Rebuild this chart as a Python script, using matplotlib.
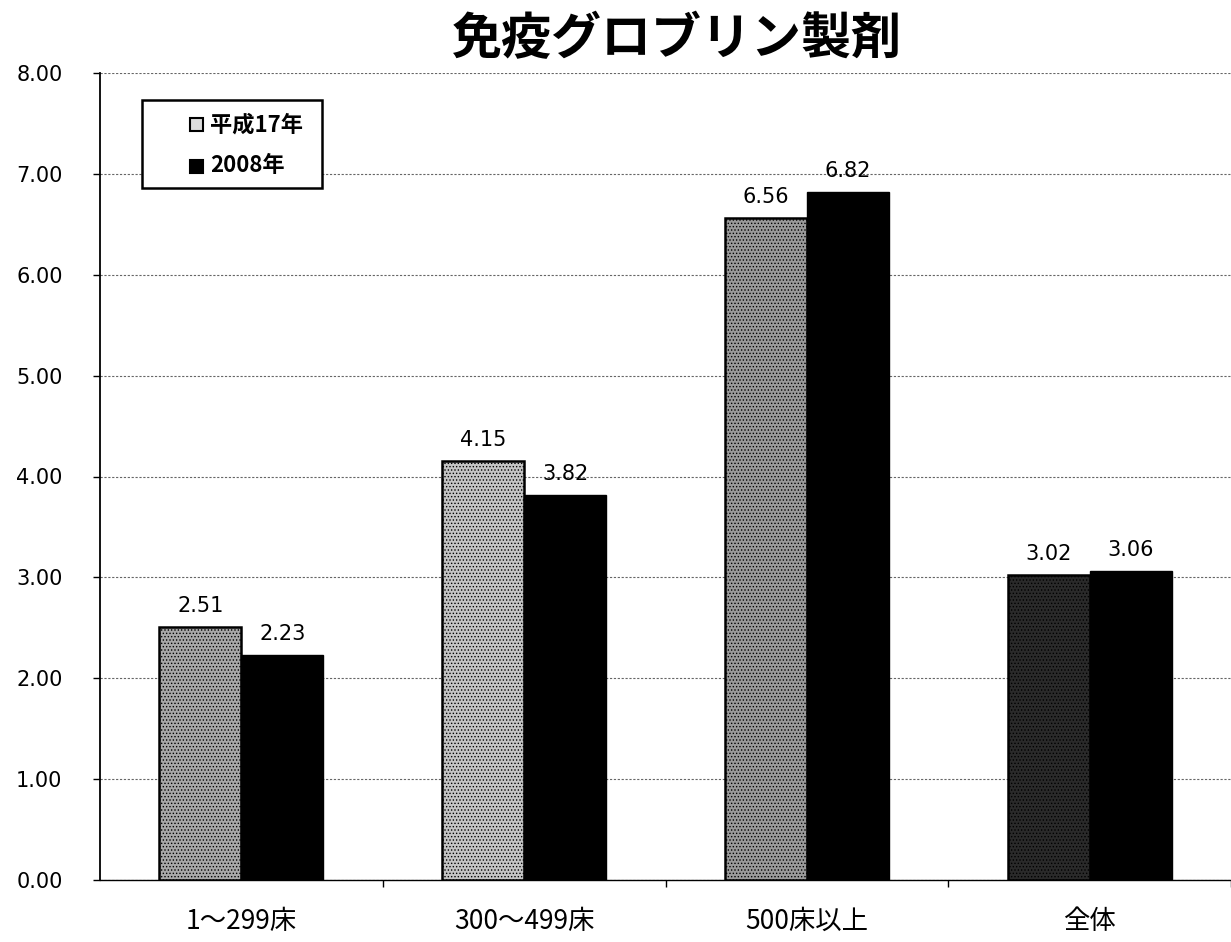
import matplotlib
matplotlib.use("Agg")
import matplotlib.pyplot as plt
from matplotlib.patches import Rectangle
import numpy as np

plt.rcParams['font.family'] = ['Noto Sans CJK JP', 'DejaVu Sans']
plt.rcParams['hatch.linewidth'] = 0.6

title = "免疫グロブリン製剤"
categories = ["1～299床", "300～499床", "500床以上", "全体"]
series_names = ["平成17年", "2008年"]
values_2005 = [2.51, 4.15, 6.56, 3.02]
values_2008 = [2.23, 3.82, 6.82, 3.06]
yticks = [0, 1, 2, 3, 4, 5, 6, 7, 8]

W, H = 1231, 942
fig = plt.figure(figsize=(W / 100, H / 100), dpi=100)
ax = fig.add_axes([100 / W, (H - 880) / H, (W - 100) / W, (880 - 73) / H])

x = np.arange(len(categories))
bw = 0.29
face1 = ['#a8a8a8', '#c4c4c4', '#9a9a9a', '#2a2a2a']
bars1 = ax.bar(x - bw / 2, values_2005, width=bw, color=face1, edgecolor='black',
               linewidth=1.8, hatch='.....', zorder=3)
bars2 = ax.bar(x + bw / 2, values_2008, width=bw, color='black', edgecolor='black',
               linewidth=1.0, zorder=3)

for bars, vals in ((bars1, values_2005), (bars2, values_2008)):
    for b, v in zip(bars, vals):
        ax.annotate(f"{v:.2f}", (b.get_x() + b.get_width() / 2, v),
                    xytext=(0, 8), textcoords='offset points',
                    ha='center', va='bottom', fontsize=15, family='DejaVu Sans')

ax.set_ylim(0, 8)
ax.set_xlim(-0.5, 3.5 - 17 / 287)
ax.set_yticks(yticks)
ax.set_yticklabels([f"{t:.2f}" for t in yticks], fontsize=15, family='DejaVu Sans')
ax.yaxis.grid(True, color='#666666', linestyle=(0, (2, 1.5)), linewidth=0.8, zorder=0)
ax.set_axisbelow(True)

ax.set_xticks(x)
ax.set_xticklabels(categories, fontsize=19)
ax.set_xticks(np.arange(len(categories)) + 0.5, minor=True)
ax.tick_params(axis='x', which='major', length=0, pad=20)
ax.tick_params(axis='x', which='minor', length=5, width=1, direction='out')
ax.tick_params(axis='y', length=5, width=1, direction='out', pad=22)

for s in ('top', 'right'):
    ax.spines[s].set_visible(False)
ax.spines['left'].set_linewidth(1.3)
ax.spines['bottom'].set_linewidth(1.0)
ax.spines['bottom'].set_linestyle((0, (3, 1)))

fig.text(677 / W, (H - 40) / H, title, ha='center', va='center',
         fontsize=36, fontweight='bold')

# legend box (manual, in figure pixel fractions)
fig.patches.append(Rectangle((142 / W, (H - 188) / H), 180 / W, 88 / H,
                             transform=fig.transFigure, facecolor='white',
                             edgecolor='black', linewidth=1.8, zorder=5))
fig.patches.append(Rectangle((190 / W, (H - 131) / H), 13 / W, 13 / H,
                             transform=fig.transFigure, facecolor='#dddddd',
                             edgecolor='black', linewidth=1.5, zorder=6))
fig.patches.append(Rectangle((190 / W, (H - 173) / H), 13 / W, 13 / H,
                             transform=fig.transFigure, facecolor='black',
                             edgecolor='black', linewidth=1.5, zorder=6))
fig.text(210 / W, (H - 125) / H, series_names[0], ha='left', va='center',
         fontsize=16, fontweight='bold', zorder=7)
fig.text(210 / W, (H - 166) / H, series_names[1], ha='left', va='center',
         fontsize=16, fontweight='bold', zorder=7)

fig.savefig("out.png", dpi=100, facecolor='white')
